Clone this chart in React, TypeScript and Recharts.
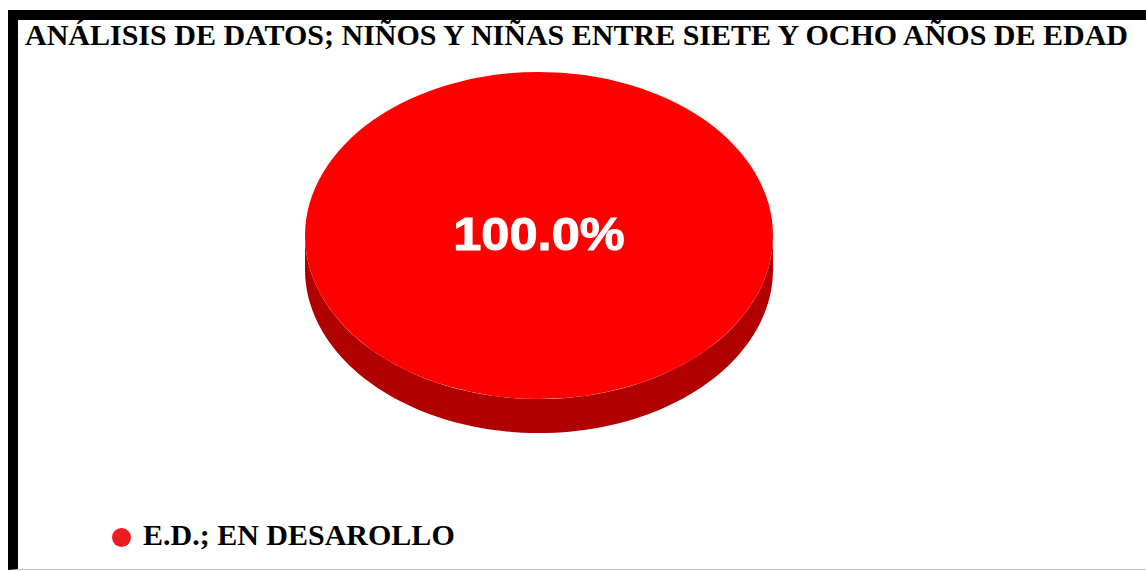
import React from "react";
import { PieChart, Pie, Cell, Legend } from "recharts";

const title = "ANÁLISIS DE DATOS; NIÑOS Y NIÑAS ENTRE SIETE Y OCHO AÑOS DE EDAD";
const categories = ["E.D.; EN DESAROLLO"];
const values = [100];
const topColors = ["#ff0000"];
const sideColors = ["#b00000"];
const legendColors = ["#ed1c24"];

const data = categories.map((name, i) => ({ name, value: values[i] }));

// fake 3D look: squashed ellipse + dark rim below
const TILT = 0.699;
const DEPTH = 34;
const RAD = Math.PI / 180;

function pt(cx: number, cy: number, r: number, a: number, dy = 0) {
  return [cx + r * Math.cos(a * RAD), cy - r * TILT * Math.sin(a * RAD) + dy];
}

const toPoints = (pts: number[][]) => pts.map((p) => p.join(",")).join(" ");

function Slice3D(props: any) {
  const { cx, cy, outerRadius: r, startAngle, endAngle, fill, index } = props;
  const lo = Math.min(startAngle, endAngle);
  const hi = Math.max(startAngle, endAngle);
  const sides: React.ReactNode[] = [];
  for (let k = -2; k <= 2; k++) {
    const a = Math.max(lo, 180 + 360 * k);
    const b = Math.min(hi, 360 + 360 * k);
    if (b > a) {
      const pts: number[][] = [];
      for (let i = 0; i <= 90; i++) pts.push(pt(cx, cy, r, a + ((b - a) * i) / 90));
      for (let i = 90; i >= 0; i--) pts.push(pt(cx, cy, r, a + ((b - a) * i) / 90, DEPTH));
      sides.push(<polygon key={k} points={toPoints(pts)} fill={sideColors[index % sideColors.length]} />);
    }
  }
  let top;
  if (hi - lo >= 359.99) {
    top = <ellipse cx={cx} cy={cy} rx={r} ry={r * TILT} fill={fill} />;
  } else {
    const pts: number[][] = [[cx, cy]];
    for (let i = 0; i <= 90; i++) pts.push(pt(cx, cy, r, lo + ((hi - lo) * i) / 90));
    top = <polygon points={toPoints(pts)} fill={fill} />;
  }
  return (
    <g>
      {sides}
      {top}
    </g>
  );
}

const renderLabel = (p: any) => {
  const { cx, cy, midAngle, outerRadius, percent } = p;
  const [x, y] = percent >= 0.9999 ? [cx, cy] : pt(cx, cy, outerRadius * 0.6, midAngle);
  return (
    <text
      transform={`translate(${x},${y + 14.5}) scale(1.1,1)`}
      textAnchor="middle"
      fill="#fff"
      stroke="#fff"
      strokeWidth={1}
      style={{ fontFamily: '"Liberation Sans", Arial, sans-serif', fontWeight: 700, fontSize: 46 }}
    >
      {(percent * 100).toFixed(1)}%
    </text>
  );
};

const renderLegend = (props: any) => {
  const { payload } = props;
  return (
    <div style={{ display: "flex" }}>
      {(payload || []).map((entry: any, i: number) => (
        <div key={i} style={{ display: "flex", alignItems: "center", lineHeight: "34.5px" }}>
          <svg width={19} height={19} style={{ position: "relative", top: 3 }}>
            <circle cx={9.5} cy={9.5} r={9.5} fill={legendColors[i % legendColors.length]} />
          </svg>
          <span
            style={{
              marginLeft: 12,
              fontFamily: '"Liberation Serif", "Times New Roman", serif',
              fontWeight: 700,
              fontSize: 30,
              color: "#000",
              whiteSpace: "nowrap",
            }}
          >
            {entry.value}
          </span>
        </div>
      ))}
    </div>
  );
};

export default function App() {
  return (
    <div
      style={{
        position: "absolute",
        left: 8,
        top: 10,
        width: 1138,
        height: 560,
        boxSizing: "border-box",
        borderLeft: "10px solid #000",
        borderTop: "10px solid #000",
        borderBottom: "1px solid #c6c6c6",
        background: "#fff",
      }}
    >
      <div
        style={{
          position: "absolute",
          left: 7,
          top: 0,
          fontFamily: '"Liberation Serif", "Times New Roman", serif',
          fontWeight: 700,
          fontSize: 30,
          lineHeight: "30px",
          color: "#000",
          whiteSpace: "nowrap",
        }}
      >
        {title}
      </div>
      <div style={{ position: "absolute", left: 0, top: 0 }}>
        <PieChart width={1128} height={549} margin={{ top: 0, right: 0, bottom: 0, left: 0 }}>
          <Pie
            data={data}
            dataKey="value"
            nameKey="name"
            cx={521}
            cy={215.5}
            outerRadius={234}
            startAngle={90}
            endAngle={-270}
            stroke="none"
            legendType="circle"
            shape={Slice3D}
            label={renderLabel}
            labelLine={false}
            isAnimationActive={false}
          >
            {data.map((_, i) => (
              <Cell key={i} fill={topColors[i % topColors.length]} />
            ))}
          </Pie>
          <Legend
            verticalAlign="bottom"
            align="left"
            content={renderLegend}
            wrapperStyle={{ left: 94, bottom: 17, width: "auto" }}
          />
        </PieChart>
      </div>
    </div>
  );
}
